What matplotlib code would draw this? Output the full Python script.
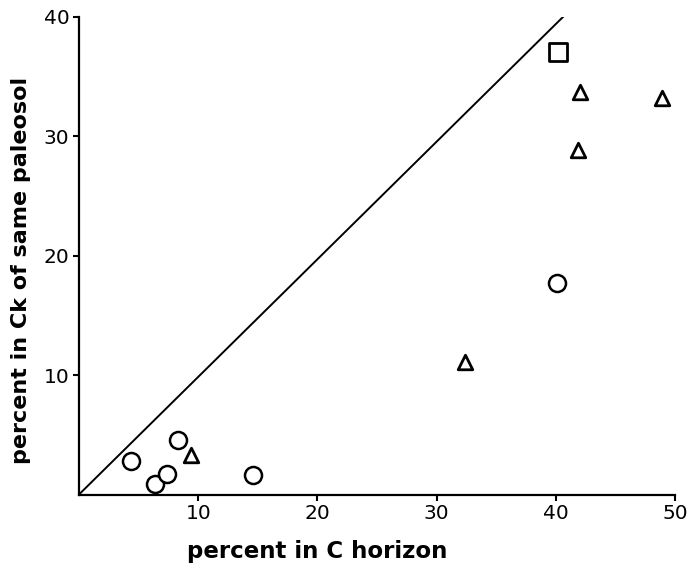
import matplotlib
matplotlib.use("Agg")
import matplotlib.pyplot as plt

circle_x = [4.4, 6.4, 7.4, 8.3, 14.6, 40.1]
circle_y = [2.8, 0.9, 1.7, 4.6, 1.6, 17.7]
tri_x = [9.4, 32.4, 41.9, 42.0, 48.9]
tri_y = [3.3, 11.1, 28.9, 33.7, 33.2]
square_x = [40.2]
square_y = [37.1]
line_x = [0, 40.6]
line_y = [0, 40]
xticks = [10, 20, 30, 40, 50]
yticks = [10, 20, 30, 40]

fig = plt.figure(figsize=(6.94, 5.69), dpi=100)
ax = fig.add_axes([79/694, 1 - 494.5/569, (675-79)/694, (494.5-17)/569])
ax.set_xlim(0, 50)
ax.set_ylim(0, 40)

ax.plot(line_x, line_y, color='black', lw=1.4)
ax.scatter(circle_x, circle_y, marker='o', s=150, facecolors='white', edgecolors='black', linewidths=1.8, zorder=3)
ax.scatter(tri_x, tri_y, marker='^', s=110, facecolors='white', edgecolors='black', linewidths=2.0, zorder=3)
ax.scatter(square_x, square_y, marker='s', s=150, facecolors='white', edgecolors='black', linewidths=2.0, zorder=3)

for s in ['top', 'right']:
    ax.spines[s].set_visible(False)
for s in ['left', 'bottom']:
    ax.spines[s].set_linewidth(1.6)

ax.set_xticks(xticks)
ax.set_yticks(yticks)
ax.tick_params(direction='out', length=4, width=1.5, pad=3, labelsize=14.5)
ax.set_xlabel('percent in C horizon', fontsize=16.5, fontweight='bold', labelpad=12)
ax.set_ylabel('percent in Ck of same paleosol', fontsize=16, fontweight='bold', labelpad=9)
ax.xaxis.label.set_x(0.40)
ax.yaxis.label.set_y(0.47)

fig.savefig('out.png', dpi=100)
